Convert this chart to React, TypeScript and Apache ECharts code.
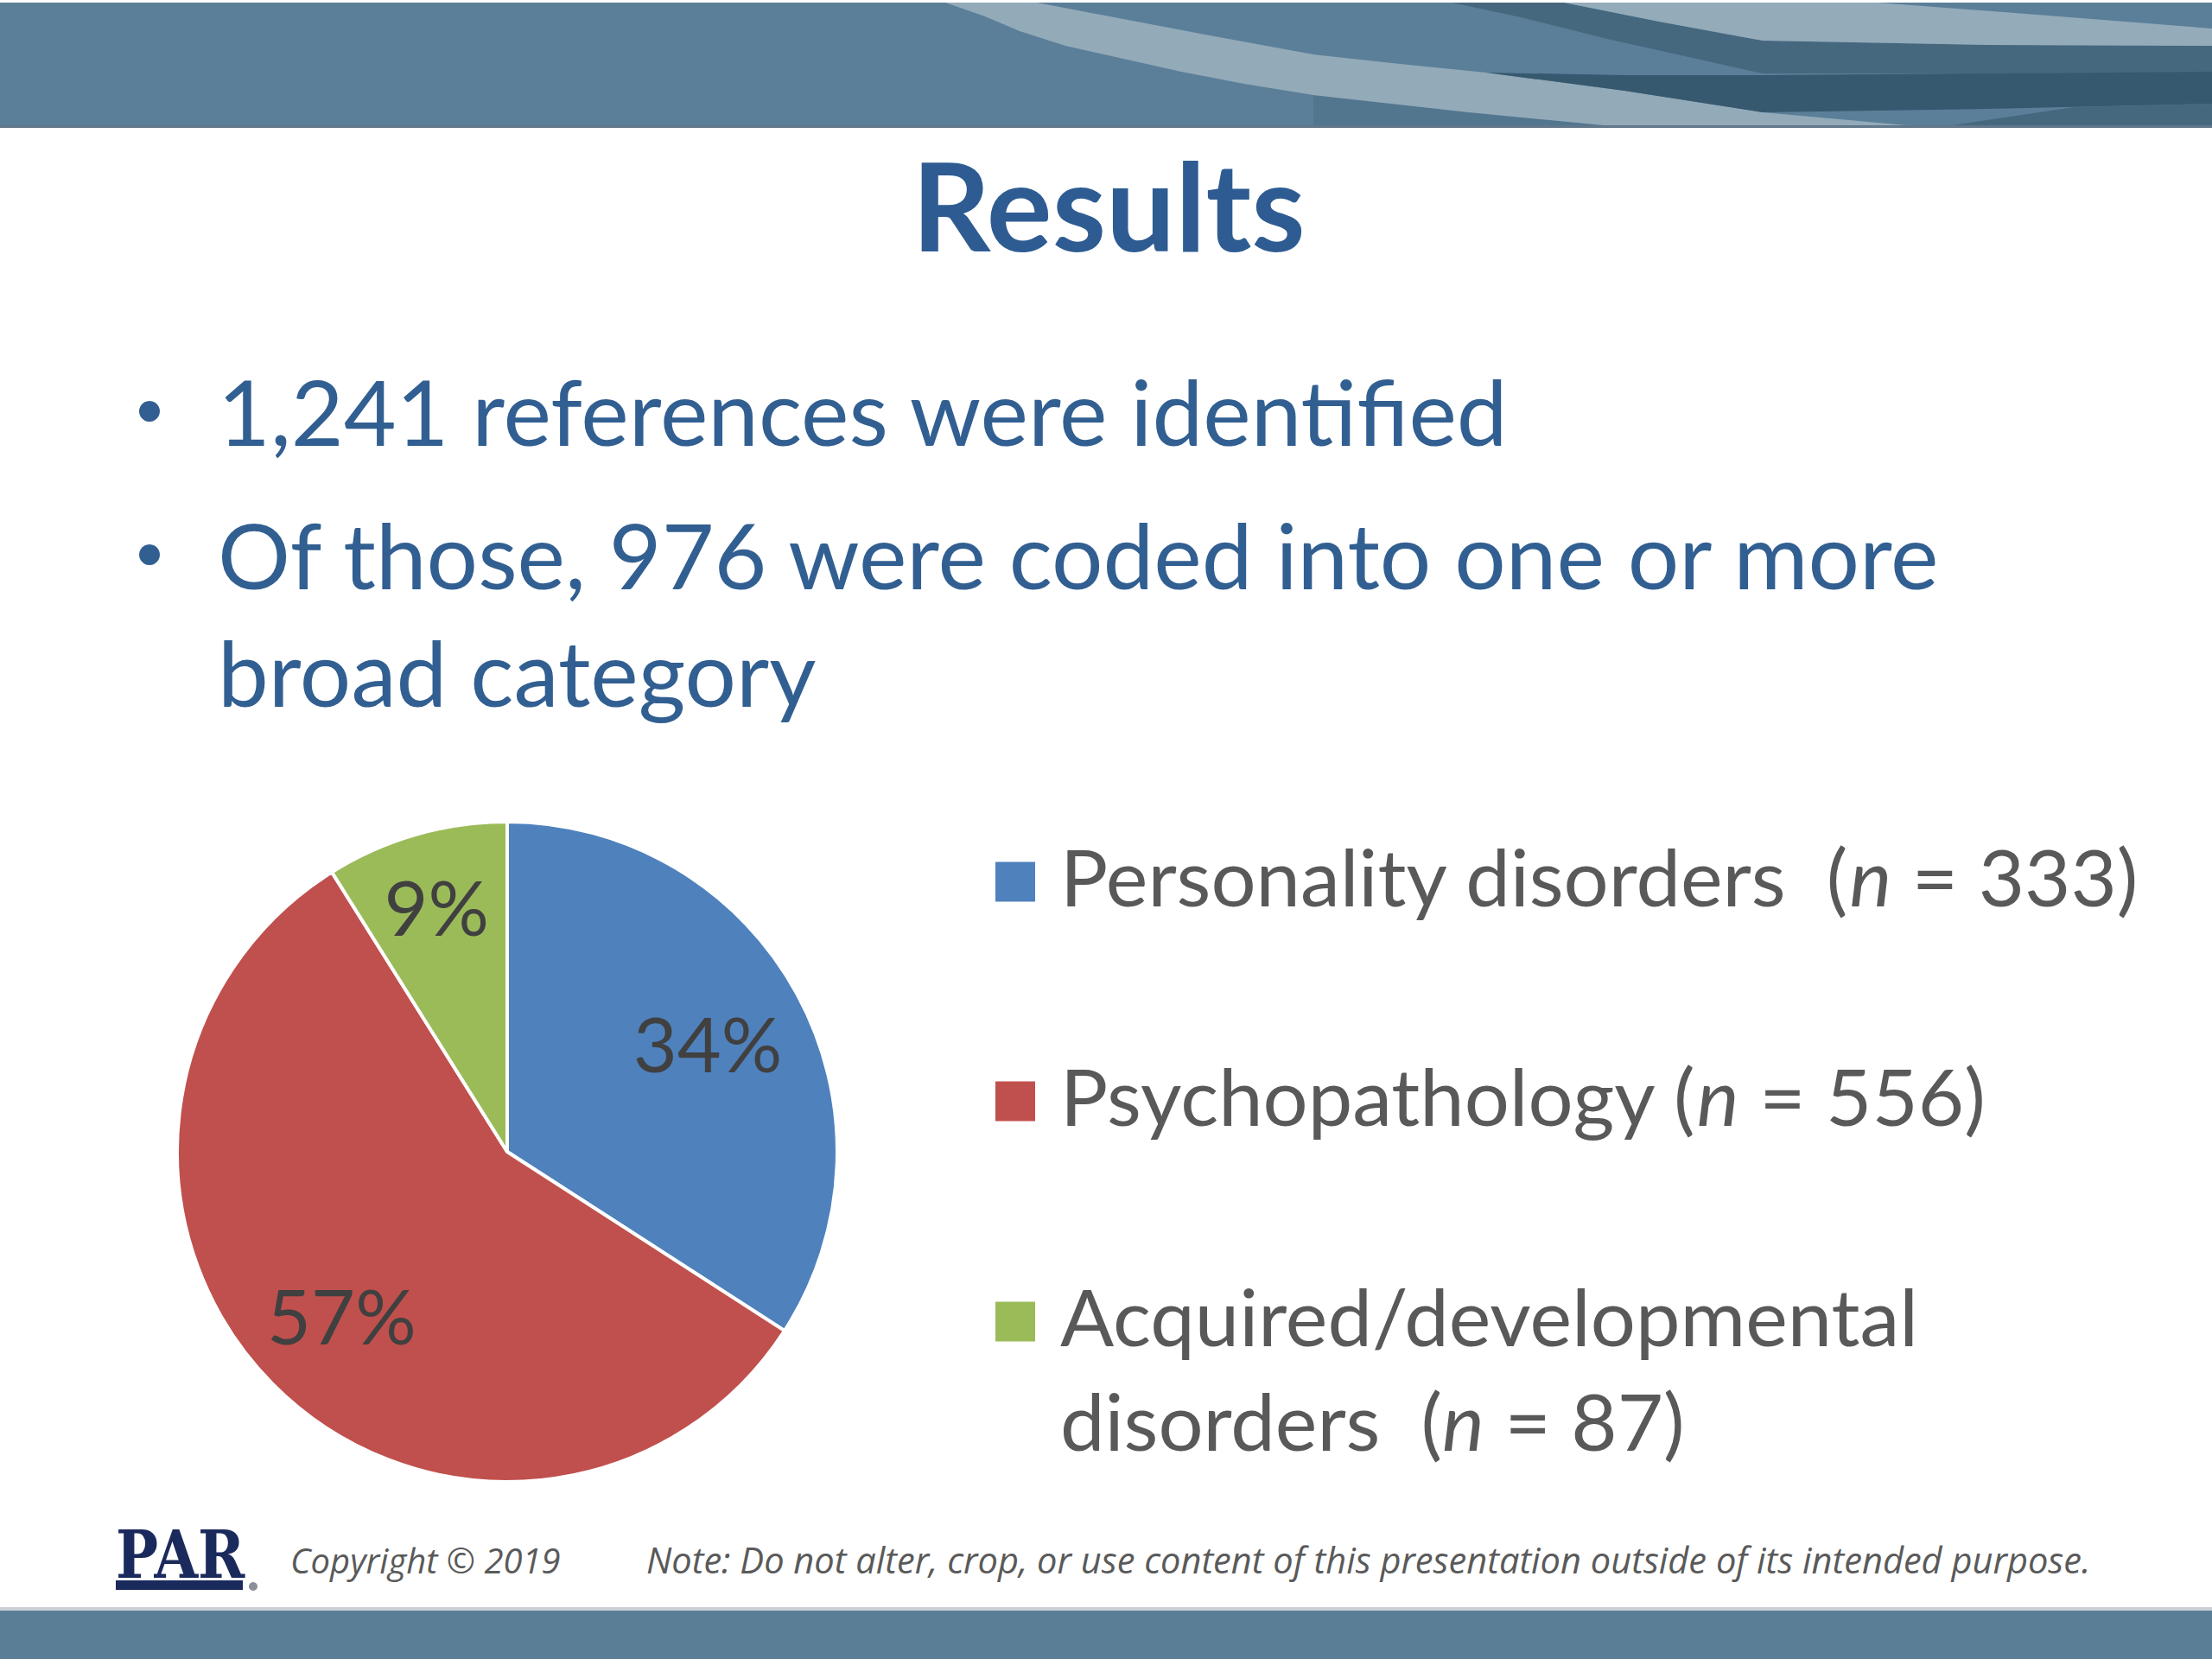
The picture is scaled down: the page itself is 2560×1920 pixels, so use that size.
import React, { useEffect, useRef } from 'react';
import * as echarts from 'echarts';

// ---- data ----
const categories = ['Personality disorders', 'Psychopathology', 'Acquired/developmental disorders'];
const counts = [333, 556, 87];
const legendLines = [['Personality disorders '], ['Psychopathology'], ['Acquired/developmental', 'disorders ']];
const sliceColors = ['#4f81bd', '#c0504d', '#9bbb59'];
const titleText = 'Results';
const bulletLines = ['1,241 references were identified', 'Of those, 976 were coded into one or more', 'broad category'];
const copyrightText = 'Copyright \u00a9 2019';
const noteText = 'Note: Do not alter, crop, or use content of this presentation outside of its intended purpose.';
const logoText = 'PAR';

// ---- layout ----
const FONT = 'Lato';
const PIE_CENTER = [587, 1333];
const PIE_R = 382;
const LEGEND_TOPS = [953, 1207, 1341];
const LABEL_RADIUS_RATIO = [0.684, 0.697, 0.766]; // label distance from centre, as share of radius

function legendLabel(i: number): string {
  const lines = legendLines[i].slice();
  lines[lines.length - 1] = lines[lines.length - 1] + ' ({i|n} = ' + counts[i] + ')';
  const prefix = lines.length > 1 ? '\n' : '';
  return prefix + lines.join('\n');
}

export default function App() {
  const ref = useRef<HTMLDivElement>(null);
  useEffect(() => {
    if (!ref.current) return;
    const chart = echarts.init(ref.current, null, { renderer: 'svg' });
    const data = categories.map((name, i) => ({ name, value: counts[i], itemStyle: { color: sliceColors[i] } }));

    const bandTop = 3;
    const bandBottom = 148;
    const poly = (points: number[][], fill: string) => ({
      type: 'polygon',
      shape: { points },
      style: { fill },
      silent: true,
    });

    const graphics: any[] = [
      { type: 'rect', shape: { x: 0, y: 0, width: 2560, height: 1920 }, style: { fill: '#ffffff' }, z: -10, silent: true },
      // top banner
      { type: 'rect', shape: { x: 0, y: bandTop, width: 2560, height: bandBottom - bandTop }, style: { fill: '#5b7f99' }, silent: true },
      poly([[1520, 110], [1700, 130], [1887, 148], [1520, 148]], '#53768f'),
      poly([[1094, 3], [1200, 3], [1300, 22], [1400, 41], [1520, 63], [1620, 74], [1720, 84], [1880, 105], [2040, 130], [2240, 148],
        [1887, 148], [1700, 130], [1520, 110], [1440, 97], [1367, 83], [1300, 68], [1233, 53], [1180, 36], [1140, 19]], '#93aab9'),
      poly([[1680, 3], [1810, 3], [1920, 25], [2040, 47], [2300, 52], [2560, 53], [2560, 84], [2300, 85], [2040, 85], [1860, 45], [1760, 20]], '#45687f'),
      poly([[1810, 3], [2173, 3], [2370, 18], [2560, 33], [2560, 53], [2300, 52], [2040, 47], [1920, 25]], '#94abba'),
      poly([[1720, 84], [1880, 87], [2040, 87], [2300, 85], [2560, 83], [2560, 120], [2300, 126], [2040, 130], [1880, 105]], '#37596f'),
      poly([[2240, 148], [2400, 124], [2560, 120], [2560, 148]], '#45687f'),
      { type: 'rect', shape: { x: 0, y: bandBottom - 3, width: 2560, height: 3 }, style: { fill: '#61778a' }, silent: true },
      // title
      { type: 'text', x: 1283, y: 236, silent: true,
        style: { text: titleText, fontFamily: FONT, fontWeight: 'bold', fontSize: 142, fill: '#2e5c92', align: 'center', verticalAlign: 'middle' } },
      // bullets
      { type: 'circle', shape: { cx: 173, cy: 476, r: 12 }, style: { fill: '#325f91' }, silent: true },
      { type: 'circle', shape: { cx: 173, cy: 642, r: 12 }, style: { fill: '#325f91' }, silent: true },
      ...bulletLines.map((t, i) => ({
        type: 'text', x: 252, y: [475, 641, 777][i], silent: true,
        style: { text: t, fontFamily: FONT, fontSize: 105, fill: '#325f91', align: 'left', verticalAlign: 'middle' },
      })),
      // footer
      { type: 'text', x: 134, y: 1799, scaleX: 0.86, silent: true,
        style: { text: logoText, fontFamily: 'DejaVu Serif', fontWeight: 'bold', fontSize: 76, fill: '#1b2a5c', align: 'left', verticalAlign: 'middle' } },
      { type: 'rect', shape: { x: 134, y: 1829, width: 147, height: 11 }, style: { fill: '#1b2a5c' }, silent: true },
      { type: 'circle', shape: { cx: 293, cy: 1836, r: 5 }, style: { fill: '#8a8f98' }, silent: true },
      { type: 'text', x: 336, y: 1805, silent: true,
        style: { text: copyrightText, fontFamily: 'Open Sans', fontStyle: 'italic', fontSize: 40, fill: '#5a5a5a', align: 'left', verticalAlign: 'middle' } },
      { type: 'text', x: 748, y: 1805, silent: true,
        style: { text: noteText, fontFamily: 'Open Sans', fontStyle: 'italic', fontSize: 41.6, fill: '#5a5a5a', align: 'left', verticalAlign: 'middle' } },
      // bottom banner
      { type: 'rect', shape: { x: 0, y: 1860, width: 2560, height: 4 }, style: { fill: '#c9d0d6' }, silent: true },
      { type: 'rect', shape: { x: 0, y: 1864, width: 2560, height: 56 }, style: { fill: '#5b7e97' }, silent: true },
    ];

    const legendText = {
      fontFamily: FONT,
      fontSize: 92,
      color: '#595959',
      lineHeight: 121,
      padding: [0, 0, 14, 23],
      rich: {
        i: { fontFamily: FONT, fontSize: 92, fontStyle: 'italic', color: '#595959', lineHeight: 121 },
      },
    };

    // one transparent overlay ring per slice, so each percentage label sits at its own distance from the centre
    const labelSeries = categories.map((_, k) => ({
      type: 'pie',
      center: PIE_CENTER,
      radius: [PIE_R * (2 * LABEL_RADIUS_RATIO[k] - 1), PIE_R],
      startAngle: 90,
      clockwise: true,
      percentPrecision: 0,
      silent: true,
      data: categories.map((name, i) => ({ name, value: counts[i], label: { show: i === k } })),
      itemStyle: { color: 'transparent', borderWidth: 0 },
      label: { position: 'inside', formatter: '{d}%', fontFamily: FONT, fontSize: 88, color: '#404040' },
      labelLine: { show: false },
    }));

    chart.setOption({
      animation: false,
      backgroundColor: '#ffffff',
      graphic: { elements: graphics },
      legend: categories.map((name, i) => ({
        data: [name],
        orient: 'vertical',
        left: 1150,
        top: LEGEND_TOPS[i],
        padding: 0,
        itemWidth: 48,
        itemHeight: 48,
        icon: 'rect',
        selectedMode: false,
        formatter: () => legendLabel(i),
        textStyle: legendText,
      })),
      series: [
        {
          type: 'pie',
          center: PIE_CENTER,
          radius: PIE_R,
          startAngle: 90,
          clockwise: true,
          percentPrecision: 0,
          silent: true,
          data,
          label: { show: false },
          labelLine: { show: false },
          itemStyle: { borderColor: '#ffffff', borderWidth: 4 },
        },
        ...labelSeries,
      ],
    });
    return () => chart.dispose();
  }, []);
  return <div ref={ref} style={{ position: 'fixed', left: 0, top: 0, width: 2560, height: 1920 }} />;
}
